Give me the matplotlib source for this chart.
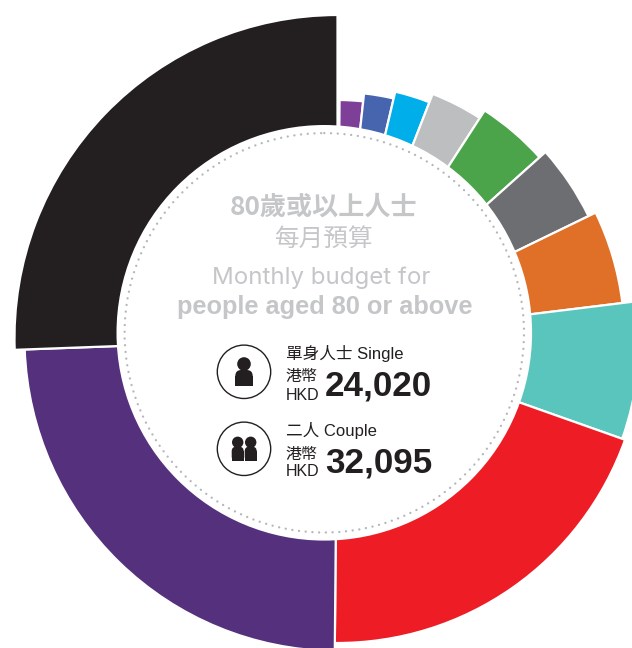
import numpy as np
import matplotlib
matplotlib.use("Agg")
import matplotlib.pyplot as plt
from matplotlib.patches import Circle, FancyBboxPatch, Rectangle

W, H = 632, 648
# clockwise segment angles (degrees from 12 o'clock) and radial lengths (px scale)
seg_start = [0.5, 6.2, 13.2, 21.3, 32.9, 48.2, 64.1, 83.0, 109.5, 180.5, 267.9]
seg_end = [6.2, 13.2, 21.3, 32.9, 48.2, 64.1, 83.0, 109.5, 180.5, 267.9, 360.0]
seg_radius = [238, 246, 253, 262, 271, 279, 287, 302, 305, 313, 323]
seg_colors = ["#7E3F98", "#4765AE", "#00AEEA", "#BCBEC0", "#4BA449", "#6D6E71",
              "#E06F27", "#5AC5BD", "#EE1C25", "#55307C", "#231F20"]

CJK = ["Noto Sans CJK TC", "Liberation Sans"]
LAT = ["Liberation Sans", "Noto Sans CJK TC"]
GREY = "#C4C6C8"
INK = "#231F20"

fig = plt.figure(figsize=(W / 100, H / 100), dpi=100, facecolor="white")
R = 330
cx, cy = 337.5, 338
pol = fig.add_axes([(cx - R) / W, (H - cy - R) / H, 2 * R / W, 2 * R / H], projection="polar")
pol.set_theta_zero_location("N")
pol.set_theta_direction(-1)
pol.set_rlim(0, R)
pol.axis("off")
pol.patch.set_alpha(0)
s = np.radians(seg_start)
e = np.radians(seg_end)
pol.bar((s + e) / 2, seg_radius, width=e - s, bottom=0, color=seg_colors,
        edgecolor="white", linewidth=1.6)

ax = fig.add_axes([0, 0, 1, 1])
ax.set_xlim(0, W)
ax.set_ylim(H, 0)
ax.axis("off")
ax.patch.set_alpha(0)
ax.add_patch(Circle((324.3, 332.8), 207.8, fc="white", ec="none", zorder=2))
ax.add_patch(Circle((324.3, 332.8), 199.7, fc="none", ec="#B4B6B8", lw=1.7,
                    ls=(0, (0.01, 2.84)), capstyle="round", zorder=3))


def t(x, y, s, size, color=INK, weight="normal", ha="left", fam=LAT):
    ax.text(x, y, s, fontsize=size, color=color, fontweight=weight, ha=ha, va="center",
            family=fam, zorder=5)


t(323.5, 207.5, "80歲或以上人士", 18.8, GREY, "bold", "center", CJK)
t(323.5, 238.5, "每月預算", 17.7, GREY, "normal", "center", CJK)
t(321, 277.5, "Monthly budget for", 17.3, GREY, "normal", "center", ["Inter", "Liberation Sans"])
t(324.5, 307, "people aged 80 or above", 18.3, GREY, "bold", "center")

t(285.5, 353.5, "單身人士 Single", 12)
t(285.5, 377, "港幣", 11.5, INK, "normal", "left", CJK)
t(285.5, 395, "HKD", 11.5)
t(325, 386, "24,020", 25.2, INK, "bold")
t(285.5, 430.5, "二人 Couple", 12)
t(285.5, 454, "港幣", 11.5, INK, "normal", "left", CJK)
t(285.5, 472, "HKD", 11.5)
t(325, 463, "32,095", 25.2, INK, "bold")


def person(x, head_y, head_r, half_w, top, bottom, corner):
    ax.add_patch(Circle((x, head_y), head_r, fc=INK, ec="none", zorder=6))
    ax.add_patch(FancyBboxPatch((x - half_w, top), 2 * half_w, bottom - top,
                                boxstyle=f"round,pad=0,rounding_size={corner}",
                                fc=INK, ec="none", zorder=6))
    ax.add_patch(Rectangle((x - half_w, top + corner), 2 * half_w, bottom - top - corner,
                           fc=INK, ec="none", zorder=6))


for y in (371.8, 448.8):
    ax.add_patch(Circle((244, y), 26.7, fc="white", ec=INK, lw=1.0, zorder=5))
person(244, 364, 6.8, 8.7, 370, 386, 6)
person(237.7, 442.3, 5.7, 6, 446.7, 461, 4.5)
person(250.7, 442.3, 5.7, 6, 446.7, 461, 4.5)

fig.savefig("out.png", dpi=100, facecolor="white")
